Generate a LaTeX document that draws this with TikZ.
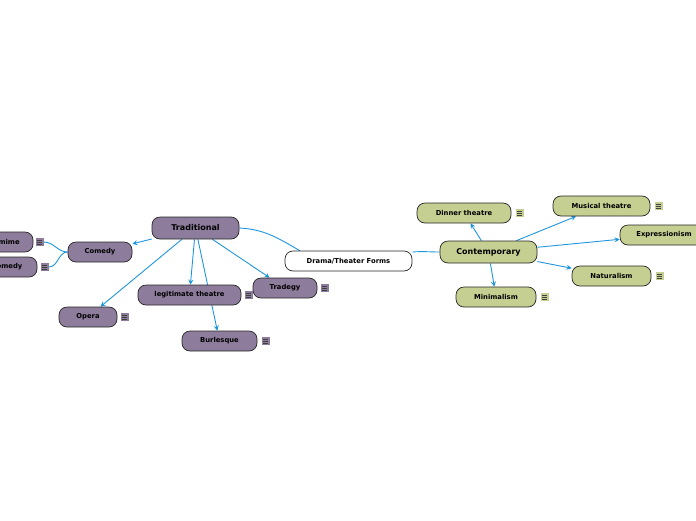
\documentclass[tikz,border=0pt]{standalone}
\usepackage{fontspec}
\setmainfont{DejaVu Sans}
\usetikzlibrary{positioning,arrows.meta,backgrounds}
\definecolor{tradfill}{RGB}{141,124,155}
\definecolor{contfill}{RGB}{196,207,145}
\definecolor{branch}{RGB}{30,150,222}

\begin{document}
\begin{tikzpicture}[x=1pt, y=1pt, font=\bfseries\fontsize{6.8}{8}\selectfont, >={Stealth[length=5pt,width=5pt]},
  topic/.style={draw=black!85, line width=0.7pt, rounded corners=8pt, inner sep=0pt, minimum height=20pt},
  main/.style={topic, minimum height=22pt, font=\bfseries\fontsize{8}{9}\selectfont},
  trad/.style={topic, fill=tradfill},
  cont/.style={topic, fill=contfill},
  note/.style={inner sep=0pt, minimum size=8pt, path picture={
    \foreach \k in {-2,0,2}
      \draw[black!75, line width=0.5pt] ([xshift=-2.5pt,yshift=\k pt]path picture bounding box.center) -- ++(5pt,0);}},
  tnote/.style={note, fill=tradfill},
  cnote/.style={note, fill=contfill},
  link/.style={draw=branch, line width=0.9pt}]
\useasboundingbox (0,0) rectangle (696,-520);
% central topic and the two main branches
\node[topic, fill=white, minimum width=127pt] (root) at (348.5,-261) {Drama/Theater Forms};
\node[main, fill=tradfill, minimum width=87pt] (trad) at (195.5,-228) {Traditional};
\node[main, fill=contfill, minimum width=97pt] (contemp) at (488.5,-252) {Contemporary};
% traditional forms
\node[trad, minimum width=64pt]  (comedy)  at (100,-252)   {Comedy};
\node[trad, minimum width=70pt]  (mime)    at (-2,-242)    {Pantomime};
\node[trad, minimum width=78pt]  (tragcom) at (-2,-267)    {Tragicomedy};
\node[trad, minimum width=103pt] (legit)   at (189.5,-295) {legitimate theatre};
\node[trad, minimum width=64pt]  (tragedy) at (285,-288)   {Tradegy};
\node[trad, minimum width=58pt]  (opera)   at (88,-317)    {Opera};
\node[trad, minimum width=75pt]  (burl)    at (219.5,-341) {Burlesque};
% contemporary forms
\node[cont, minimum width=94pt]  (dinner)  at (464,-213)   {Dinner theatre};
\node[cont, minimum width=97pt]  (musical) at (601.5,-206) {Musical theatre};
\node[cont, minimum width=88pt]  (expr)    at (664,-235)   {Expressionism};
\node[cont, minimum width=79pt]  (natur)   at (611.5,-276) {Naturalism};
\node[cont, minimum width=80pt]  (minim)   at (496,-297)   {Minimalism};
% note icons
\node[tnote, right=2pt of mime]    (mimeN)    {};
\node[tnote, right=3pt of tragcom] (tragcomN) {};
\node[tnote, right=3pt of legit]   (legitN)   {};
\node[tnote, right=3pt of tragedy] (tragedyN) {};
\node[tnote, right=3pt of opera]   (operaN)   {};
\node[tnote, right=4pt of burl]    (burlN)    {};
\node[cnote, right=4pt of dinner]  (dinnerN)  {};
\node[cnote, right=4pt of musical] (musicalN) {};
\node[cnote, right=4pt of natur]   (naturN)   {};
\node[cnote, right=4pt of minim]   (minimN)   {};
\begin{scope}[on background layer]
\draw[link] (trad.east) to[out=-3,in=150] (root.168);
\draw[link] (root.8) to[out=5,in=180] (contemp.west);
\draw[link,->] (trad) -- (comedy);
\draw[link,->] (trad) -- (opera);
\draw[link,->] (trad) -- (legit);
\draw[link,->] (trad) -- (burl);
\draw[link,->] (trad) -- (tragedy);
\draw[link] (comedy.west) to[out=180,in=0] (mimeN.east);
\draw[link] (comedy.west) to[out=180,in=0] (tragcomN.east);
\draw[link,->] (contemp) -- (dinner);
\draw[link,->] (contemp) -- (musical);
\draw[link,->] (contemp) -- (expr);
\draw[link,->] (contemp) -- (natur);
\draw[link,->] (contemp) -- (minim);
\end{scope}
\end{tikzpicture}
\end{document}
